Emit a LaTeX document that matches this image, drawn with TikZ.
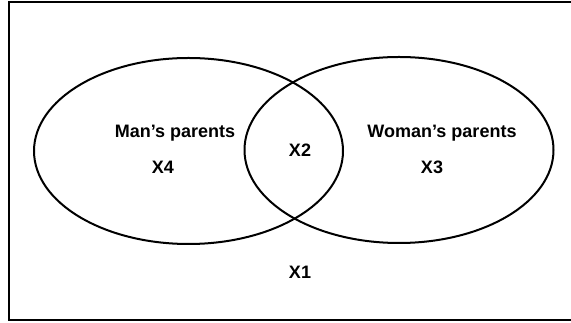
\documentclass[tikz,border=0pt]{standalone}
\usepackage{fontspec}
\setmainfont{Liberation Sans}
\usetikzlibrary{shapes.geometric}
\begin{document}
\begin{tikzpicture}[x=0.75pt,y=-0.75pt,
  setshape/.style={draw, ellipse, line width=1.5pt, inner sep=0pt, outer sep=0pt,
    minimum width=231.75pt, minimum height=139.5pt},
  lbl/.style={font=\fontsize{13.5}{16}\selectfont\bfseries, inner sep=0pt}]
\useasboundingbox (0,0) rectangle (571,323);
\clip (0,0) rectangle (571,323);
\draw[line width=1.5pt] (580,2) -- (9,2) -- (9,320) -- (580,320);
\node[setshape] (man) at (188.5,151) {};
\node[setshape] (woman) at (399,150) {};
\node[lbl] (manlbl) at (175,133.5) {Man’s parents};
\node[lbl] (x4) at (163,167) {X4};
\node[lbl] (x2) at (300,150) {X2};
\node[lbl] (womanlbl) at (442,133.5) {Woman’s parents};
\node[lbl] (x3) at (432,167) {X3};
\node[lbl] (x1) at (300,272) {X1};
\end{tikzpicture}
\end{document}
